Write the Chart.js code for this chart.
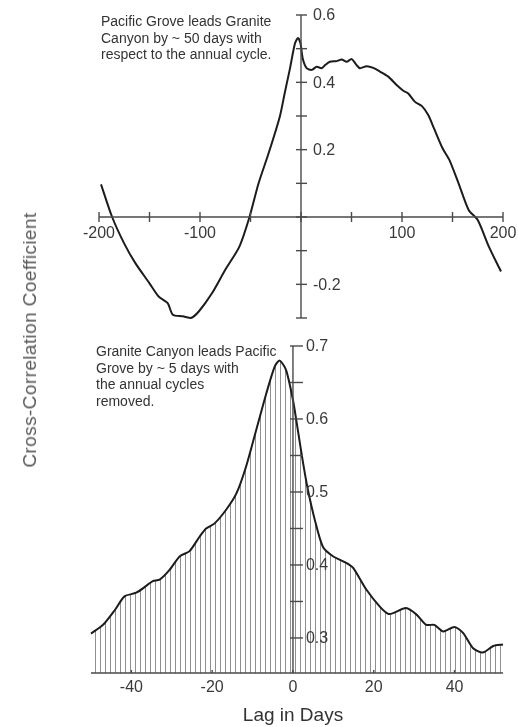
<!DOCTYPE html>
<html>
<head>
<meta charset="utf-8">
<script src="https://cdn.jsdelivr.net/npm/chart.js@4.4.1/dist/chart.umd.min.js"></script>
<style>
body { margin: 0; background: #fff; }
#wrap { position: relative; width: 518px; height: 727px; overflow: hidden;
        font-family: "Liberation Sans", Arial, Helvetica, sans-serif; color: #333; }
#wrap canvas { position: absolute; left: 0; }
.note { position: absolute; font-size: 14px; line-height: 16.5px; white-space: nowrap; color: #333; }
#ytitle { position: absolute; left: 30px; top: 340px; font-size: 19px; letter-spacing: 0.4px; font-weight: normal;
          white-space: nowrap; transform: translate(-50%, -50%) rotate(-90deg); color: #5a5a5a; }
#xtitle { position: absolute; left: 293px; top: 715px; font-size: 19px; white-space: nowrap;
          transform: translate(-50%, -50%); color: #333; }
</style>
</head>
<body>
<div id="wrap">
  <canvas id="top" width="518" height="330" style="top:0"></canvas>
  <canvas id="bottom" width="518" height="397" style="top:330px"></canvas>
  <div class="note" style="left:101px; top:13px">Pacific Grove leads Granite<br>Canyon by ~ 50 days with<br>respect to the annual cycle.</div>
  <div class="note" style="left:96px; top:343px">Granite Canyon leads Pacific<br>Grove by ~ 5 days with<br>the annual cycles<br>removed.</div>
  <div id="ytitle">Cross-Correlation Coefficient</div>
  <div id="xtitle">Lag in Days</div>
</div>
<script>
// top panel: with the annual cycle
var topLag  = [-198, -187, -175, -164, -150, -141, -132, -127, -117, -109, -101, -88, -75, -61, -51, -42, -32,
               -21, -16, -11, -6, -3, -0.5, 1.7, 5.6, 10.6, 15.5, 20.5, 23.8, 28.7, 35.3, 40.3, 45.2, 50.2,
               55.1, 58.4, 65, 71.6, 78.2, 86.4, 94.7, 101.3, 106.2, 112.9, 119.5, 126, 131.7, 140, 147,
               156, 166, 175, 186, 198];
var topCorr = [0.097, 0, -0.079, -0.137, -0.197, -0.236, -0.256, -0.29, -0.295, -0.3, -0.28, -0.226, -0.157,
               -0.088, 0, 0.1, 0.19, 0.298, 0.37, 0.44, 0.515, 0.532, 0.516, 0.471, 0.442, 0.437, 0.446,
               0.442, 0.451, 0.461, 0.463, 0.468, 0.461, 0.469, 0.451, 0.442, 0.448, 0.443, 0.432, 0.417,
               0.392, 0.375, 0.367, 0.342, 0.33, 0.303, 0.263, 0.205, 0.169, 0.1, 0.021, -0.009, -0.088, -0.162];
var topXLabels = [-200, -100, 100, 200];
var topYLabels = [0.6, 0.4, 0.2, -0.2];

// bottom panel: annual cycles removed
var botLag  = [-50, -47, -44, -41.7, -38.8, -36.4, -34.7, -33, -30.6, -28, -25.6, -23.1, -21.5, -19.4, -16.5,
               -14, -11.6, -9.1, -6.6, -4.5, -3.3, -1.7, 0, 1.2, 2.5, 3.7, 5.4, 7.4, 9.9, 13.2, 14.9, 18.2,
               21.5, 23.6, 24.8, 28, 30.6, 33, 35, 37.2, 40, 42.1, 44.6, 47, 49.6, 52];
var botCorr = [0.306, 0.318, 0.339, 0.357, 0.362, 0.371, 0.378, 0.38, 0.393, 0.412, 0.419, 0.439, 0.45, 0.457,
               0.476, 0.498, 0.535, 0.585, 0.635, 0.672, 0.68, 0.667, 0.626, 0.585, 0.54, 0.503, 0.462, 0.425,
               0.412, 0.403, 0.396, 0.366, 0.343, 0.333, 0.334, 0.341, 0.332, 0.318, 0.318, 0.309, 0.315,
               0.307, 0.286, 0.28, 0.289, 0.291];
var botXLabels = [-40, -20, 0, 20, 40];
var botYLabels = [0.7, 0.6, 0.5, 0.4, 0.3];

var AXIS_COLOR = '#4a4a4a';
var LINE_COLOR = '#1c1c1c';
var TEXT_COLOR = '#3a3a3a';

Chart.defaults.font.family = '"Liberation Sans", Arial, sans-serif';

function toPoints(xs, ys) {
    return xs.map(function (x, i) { return { x: x, y: ys[i] }; });
}

function hasValue(list, v) {
    return list.some(function (l) { return Math.abs(l - v) < 1e-6; });
}

// axes crossing inside the plot, ticks on both sides, labels right of the y axis
var axisMarks = {
    id: 'axisMarks',
    afterDatasetsDraw: function (chart, args, o) {
        var ctx = chart.ctx;
        var xs = chart.scales.x, ys = chart.scales.y;
        var area = chart.chartArea;
        var ax = xs.getPixelForValue(o.yAxisAt);
        var ay = ys.getPixelForValue(o.xAxisAt);

        ctx.save();
        ctx.strokeStyle = AXIS_COLOR;
        ctx.lineWidth = 1.4;
        ctx.beginPath();
        ctx.moveTo(area.left, ay);
        ctx.lineTo(area.right, ay);
        ctx.moveTo(ax, area.top);
        ctx.lineTo(ax, area.bottom);
        ctx.stroke();

        ctx.font = '16px "Liberation Sans", Arial, sans-serif';
        ctx.fillStyle = TEXT_COLOR;

        xs.ticks.forEach(function (t) {
            var px = xs.getPixelForValue(t.value);
            ctx.beginPath();
            ctx.moveTo(px, ay - o.xTick[0]);
            ctx.lineTo(px, ay + o.xTick[1]);
            ctx.stroke();
            if (hasValue(o.xLabels, t.value)) {
                ctx.textAlign = 'center';
                ctx.textBaseline = 'middle';
                ctx.fillText(String(t.value), px, ay + o.xLabelDy);
            }
        });

        ys.ticks.forEach(function (t) {
            var py = ys.getPixelForValue(t.value);
            ctx.beginPath();
            ctx.moveTo(ax - o.yTick[0], py);
            ctx.lineTo(ax + o.yTick[1], py);
            ctx.stroke();
            if (hasValue(o.yLabels, t.value)) {
                ctx.textAlign = 'left';
                ctx.textBaseline = 'middle';
                ctx.fillText(String(Math.round(t.value * 10) / 10), ax + o.yLabelDx, py + 1);
            }
        });
        ctx.restore();
    }
};

// vertical hatching for the filled area
function hatch() {
    var c = document.createElement('canvas');
    c.width = 5;
    c.height = 8;
    var g = c.getContext('2d');
    g.fillStyle = 'rgba(95,95,95,0.7)';
    g.fillRect(0, 0, 1, 8);
    return g.createPattern(c, 'repeat');
}

function scaleOpts(min, max, step) {
    return {
        type: 'linear', display: false, min: min, max: max,
        ticks: { stepSize: step, includeBounds: false }
    };
}

var baseOptions = {
    responsive: false,
    animation: false,
    events: [],
    plugins: { legend: { display: false }, tooltip: { enabled: false } }
};

new Chart(document.getElementById('top'), {
    type: 'line',
    data: {
        datasets: [{
            data: toPoints(topLag, topCorr),
            borderColor: LINE_COLOR,
            borderWidth: 2,
            pointRadius: 0,
            tension: 0.25,
            fill: false,
            clip: false
        }]
    },
    options: Object.assign({}, baseOptions, {
        layout: { padding: { left: 99, right: 15, top: 15, bottom: 12 } },
        scales: { x: scaleOpts(-200, 200, 50), y: scaleOpts(-0.3, 0.6, 0.1) },
        plugins: Object.assign({}, baseOptions.plugins, {
            axisMarks: {
                xAxisAt: 0, yAxisAt: 0,
                xTick: [5, 5], yTick: [5, 6],
                xLabels: topXLabels, yLabels: topYLabels,
                xLabelDy: 17, yLabelDx: 12
            }
        })
    }),
    plugins: [axisMarks]
});

new Chart(document.getElementById('bottom'), {
    type: 'line',
    data: {
        datasets: [{
            data: toPoints(botLag, botCorr),
            borderColor: LINE_COLOR,
            borderWidth: 2,
            pointRadius: 0,
            tension: 0.25,
            fill: 'start',
            backgroundColor: hatch(),
            clip: false
        }]
    },
    options: Object.assign({}, baseOptions, {
        layout: { padding: { left: 91, right: 15, top: 16, bottom: 54 } },
        scales: { x: scaleOpts(-50, 52, 20), y: scaleOpts(0.252, 0.7, 0.05) },
        plugins: Object.assign({}, baseOptions.plugins, {
            axisMarks: {
                xAxisAt: 0.252, yAxisAt: 0,
                xTick: [3, 0], yTick: [3, 10],
                xLabels: botXLabels, yLabels: botYLabels,
                xLabelDy: 15, yLabelDx: 13
            }
        })
    }),
    plugins: [axisMarks]
});
</script>
</body>
</html>
